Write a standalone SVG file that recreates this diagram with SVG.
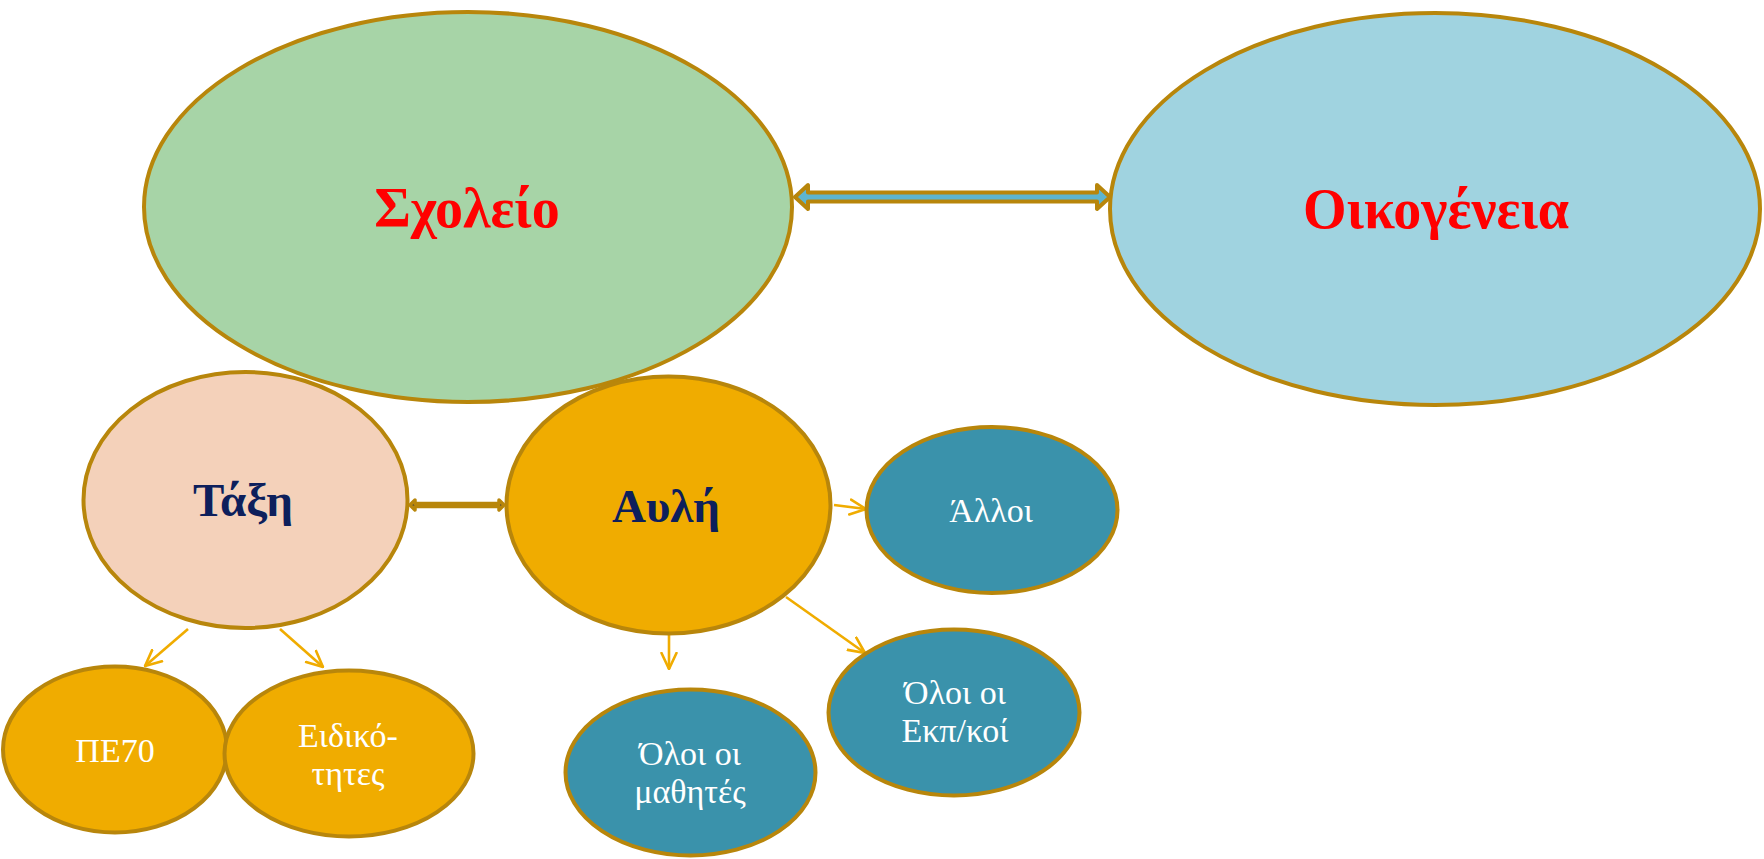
<svg xmlns="http://www.w3.org/2000/svg" width="1764" height="859" viewBox="0 0 1764 859">
<defs>
<marker id="vhead" viewBox="0 0 18 18" refX="17" refY="9" markerWidth="18" markerHeight="18" markerUnits="userSpaceOnUse" orient="auto">
<path d="M1,1.5 L17,9 L1,16.5" fill="none" stroke="#F0AC00" stroke-width="2.6" stroke-linecap="round" stroke-linejoin="round"/>
</marker>
</defs>
<style>
.node ellipse{stroke:#B8860B;stroke-width:4}
.big{font-family:"Liberation Serif","DejaVu Serif",serif;font-weight:bold;fill:#FF0000;font-size:56px;text-anchor:middle}
.mid{font-family:"Liberation Serif","DejaVu Serif",serif;font-weight:bold;fill:#0D1F5C;font-size:47px;text-anchor:middle}
.sm{font-family:"Liberation Serif","DejaVu Serif",serif;fill:#FFFFFF;font-size:34px;text-anchor:middle}
.thin{fill:none;stroke:#F0AC00;stroke-width:2.6;marker-end:url(#vhead)}
</style>
<rect width="1764" height="859" fill="#FFFFFF"/>
<g id="connectors">
<polygon points="795,197 808,185 808,192.5 1097,192.5 1097,185 1110,197 1097,209 1097,201.5 808,201.5 808,209" fill="#5DB5CF" stroke="#B8860B" stroke-width="4" stroke-linejoin="round"/>
<line class="thin" x1="834" y1="505" x2="866" y2="509"/>
<line class="thin" x1="786" y1="597" x2="865" y2="653"/>
<line class="thin" x1="669" y1="635" x2="669" y2="669"/>
<line class="thin" x1="188" y1="629" x2="145" y2="666"/>
<line class="thin" x1="280" y1="629" x2="323" y2="667"/>
</g>
<g id="n-scholeio" class="node">
<ellipse cx="468" cy="207" rx="324" ry="195" fill="#A7D4A7"/>
<text class="big" x="467" y="227">Σχολείο</text>
</g>
<g id="n-oikogeneia" class="node">
<ellipse cx="1435" cy="209" rx="325" ry="196" fill="#A0D3E0"/>
<text class="big" x="1436" y="228">Οικογένεια</text>
</g>
<g id="n-taxi" class="node">
<ellipse cx="245.5" cy="500" rx="162" ry="128" fill="#F4D1BA"/>
<text class="mid" x="243" y="516">Τάξη</text>
</g>
<g id="n-avli" class="node">
<ellipse cx="668.5" cy="505" rx="162" ry="128.5" fill="#F0AC00"/>
<text class="mid" x="666" y="522">Αυλή</text>
</g>
<g id="c-taxi-avli">
<polygon points="410,505 415,500 415,503.5 499,503.5 499,500 504,505 499,510 499,506.5 415,506.5 415,510" fill="#404040" stroke="#B8860B" stroke-width="3.5" stroke-linejoin="round"/>
</g>
<g id="n-pe70" class="node">
<ellipse cx="115" cy="749.5" rx="112" ry="83" fill="#F0AC00"/>
<text class="sm" x="115" y="762">ΠΕ70</text>
</g>
<g id="n-eidikotites" class="node">
<ellipse cx="349" cy="753.5" rx="124.5" ry="83" fill="#F0AC00"/>
<text class="sm" x="348" y="747">Ειδικό-</text>
<text class="sm" x="348" y="785">τητες</text>
</g>
<g id="n-mathites" class="node">
<ellipse cx="690.5" cy="772.5" rx="125" ry="83" fill="#3A92AB"/>
<text class="sm" x="690" y="765">Όλοι οι</text>
<text class="sm" x="690" y="803">μαθητές</text>
</g>
<g id="n-alloi" class="node">
<ellipse cx="992" cy="510" rx="125.5" ry="83" fill="#3A92AB"/>
<text class="sm" x="991" y="522">Άλλοι</text>
</g>
<g id="n-ekpkoi" class="node">
<ellipse cx="954" cy="712.5" rx="125.5" ry="83" fill="#3A92AB"/>
<text class="sm" x="955" y="704">Όλοι οι</text>
<text class="sm" x="955" y="742">Εκπ/κοί</text>
</g>
</svg>
